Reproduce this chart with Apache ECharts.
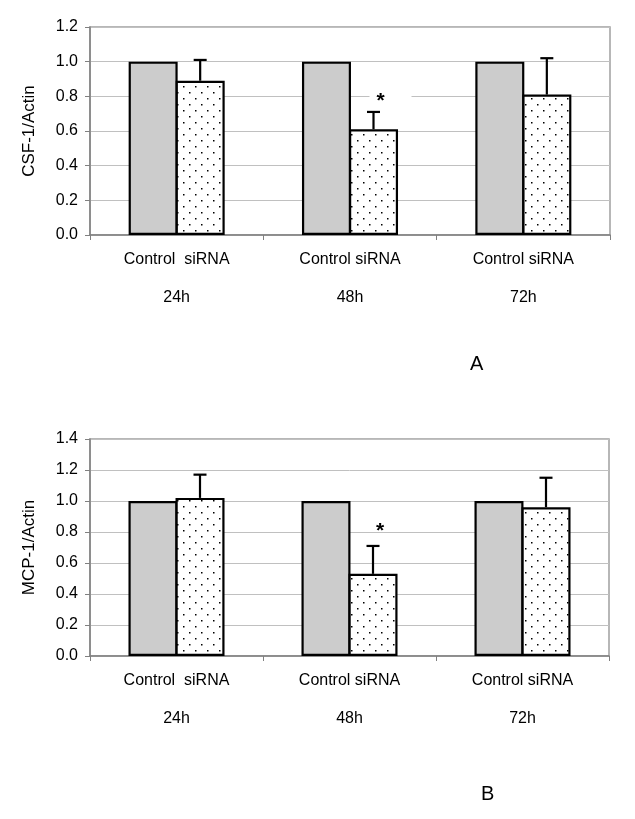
<!DOCTYPE html>
<html>
<head>
<meta charset="utf-8">
<script src="https://cdn.jsdelivr.net/npm/echarts@6/dist/echarts.min.js"></script>
<style>
html,body{margin:0;padding:0;background:#fff;}
#chart{width:635px;height:819px;}
</style>
</head>
<body>
<div id="chart"></div>
<script>
// ---- data ----
const timePoints = ['24h', '48h', '72h'];
const pairLabels = ['Control  siRNA', 'Control siRNA', 'Control siRNA'];

const controlA = [1.0, 1.0, 1.0];
const sirnaA = [0.89, 0.61, 0.81];
const errA = [0.12, 0.10, 0.21];
const starA = [null, 0.80, null];

const controlB = [1.0, 1.0, 1.0];
const sirnaB = [1.02, 0.53, 0.96];
const errB = [0.15, 0.18, 0.19];
const starB = [null, 0.84, null];

const yTicksA = [0, 0.2, 0.4, 0.6, 0.8, 1.0, 1.2];
const yTicksB = [0, 0.2, 0.4, 0.6, 0.8, 1.0, 1.2, 1.4];

// ---- style ----
const FONT = '"Liberation Sans", Arial, sans-serif';
const BAR_W = 49;
const BAR_GAP = '-4%';
const SIRNA_OFFSET = BAR_W / 2 - 1;

function dotPattern() {
  const c = document.createElement('canvas');
  c.width = 12; c.height = 12;
  const g = c.getContext('2d');
  g.fillStyle = '#fff';
  g.fillRect(0, 0, 12, 12);
  g.fillStyle = '#000';
  g.fillRect(3, 2, 1.5, 1.5);
  g.fillRect(9, 8, 1.5, 1.5);
  return c;
}
const pattern = {image: dotPattern(), repeat: 'repeat'};

const chart = echarts.init(document.getElementById('chart'), null, {renderer: 'canvas'});

function xAxisFor(gridIndex) {
  return {
    type: 'category', gridIndex: gridIndex, data: timePoints,
    axisLine: {show: true, lineStyle: {color: '#808080', width: 1.5}},
    axisTick: {show: true, length: 5, lineStyle: {color: '#808080'}},
    axisLabel: {
      color: '#000', fontFamily: FONT, fontSize: 16, lineHeight: 19, margin: 15,
      formatter: function (v, i) { return pairLabels[i] + '\n\n' + v; }
    },
    splitLine: {show: false}
  };
}
function yAxisFor(gridIndex, ticks, name) {
  return {
    type: 'value', gridIndex: gridIndex, min: ticks[0], max: ticks[ticks.length - 1], interval: 0.2,
    name: name, nameLocation: 'middle', nameGap: 52, nameRotate: 90,
    nameTextStyle: {color: '#000', fontFamily: FONT, fontSize: 17},
    axisLine: {show: true, lineStyle: {color: '#808080', width: 1.5}},
    axisTick: {show: true, length: 5, lineStyle: {color: '#808080'}},
    axisLabel: {color: '#000', fontFamily: FONT, fontSize: 16, margin: 12,
      formatter: function (v) { return v.toFixed(1); }},
    splitLine: {show: true, lineStyle: {color: '#c0c0c0', width: 1}}
  };
}

function barSeries(idx, data, fill) {
  return {
    type: 'bar', xAxisIndex: idx, yAxisIndex: idx, data: data,
    barWidth: BAR_W, barGap: BAR_GAP,
    itemStyle: {color: fill, borderColor: '#000', borderWidth: 2.2},
    silent: true, z: 3
  };
}

function errSeries(idx, vals, errs) {
  return {
    type: 'custom', xAxisIndex: idx, yAxisIndex: idx, z: 4, silent: true,
    data: vals.map(function (v, i) { return [i, v, errs[i]]; }),
    encode: {x: 0, y: 1},
    renderItem: function (params, api) {
      const i = api.value(0), v = api.value(1), e = api.value(2);
      const p0 = api.coord([i, v]);
      const p1 = api.coord([i, v + e]);
      const x = p0[0] + SIRNA_OFFSET;
      return {
        type: 'group',
        children: [
          {type: 'line', shape: {x1: x, y1: p0[1], x2: x, y2: p1[1]}, style: {stroke: '#000', lineWidth: 2.2}},
          {type: 'line', shape: {x1: x - 6.5, y1: p1[1], x2: x + 6.5, y2: p1[1]}, style: {stroke: '#000', lineWidth: 2.2}}
        ]
      };
    }
  };
}

function starSeries(idx, stars) {
  return {
    type: 'custom', xAxisIndex: idx, yAxisIndex: idx, z: 5, silent: true,
    data: stars.map(function (v, i) { return [i, v]; }).filter(function (d) { return d[1] != null; }),
    encode: {x: 0, y: 1},
    renderItem: function (params, api) {
      const p = api.coord([api.value(0), api.value(1)]);
      const x = p[0] + SIRNA_OFFSET + 7;
      return {
        type: 'group',
        children: [
          {type: 'rect', shape: {x: x - 11, y: p[1] - 3, width: 42, height: 6}, style: {fill: '#fff'}},
          {type: 'text', style: {text: '*', x: x, y: p[1] + 5, fill: '#000',
            font: 'bold 21px ' + FONT, textAlign: 'center', textVerticalAlign: 'middle'}}
        ]
      };
    }
  };
}

const option = {
  backgroundColor: '#fff',
  animation: false,
  grid: [
    {left: 90, top: 27, width: 520, height: 208, show: true, borderColor: '#a0a0a0', borderWidth: 1.5, backgroundColor: 'transparent'},
    {left: 90, top: 439, width: 519, height: 217, show: true, borderColor: '#a0a0a0', borderWidth: 1.5, backgroundColor: 'transparent'}
  ],
  xAxis: [xAxisFor(0), xAxisFor(1)],
  yAxis: [yAxisFor(0, yTicksA, 'CSF-1/Actin'), yAxisFor(1, yTicksB, 'MCP-1/Actin')],
  graphic: [
    {type: 'text', left: 470, top: 354, style: {text: 'A', font: '20px ' + FONT, fill: '#000'}},
    {type: 'text', left: 481, top: 784, style: {text: 'B', font: '20px ' + FONT, fill: '#000'}}
  ],
  series: [
    barSeries(0, controlA, '#cccccc'),
    barSeries(0, sirnaA, pattern),
    errSeries(0, sirnaA, errA),
    starSeries(0, starA),
    barSeries(1, controlB, '#cccccc'),
    barSeries(1, sirnaB, pattern),
    errSeries(1, sirnaB, errB),
    starSeries(1, starB)
  ]
};
chart.setOption(option);
</script>
</body>
</html>
